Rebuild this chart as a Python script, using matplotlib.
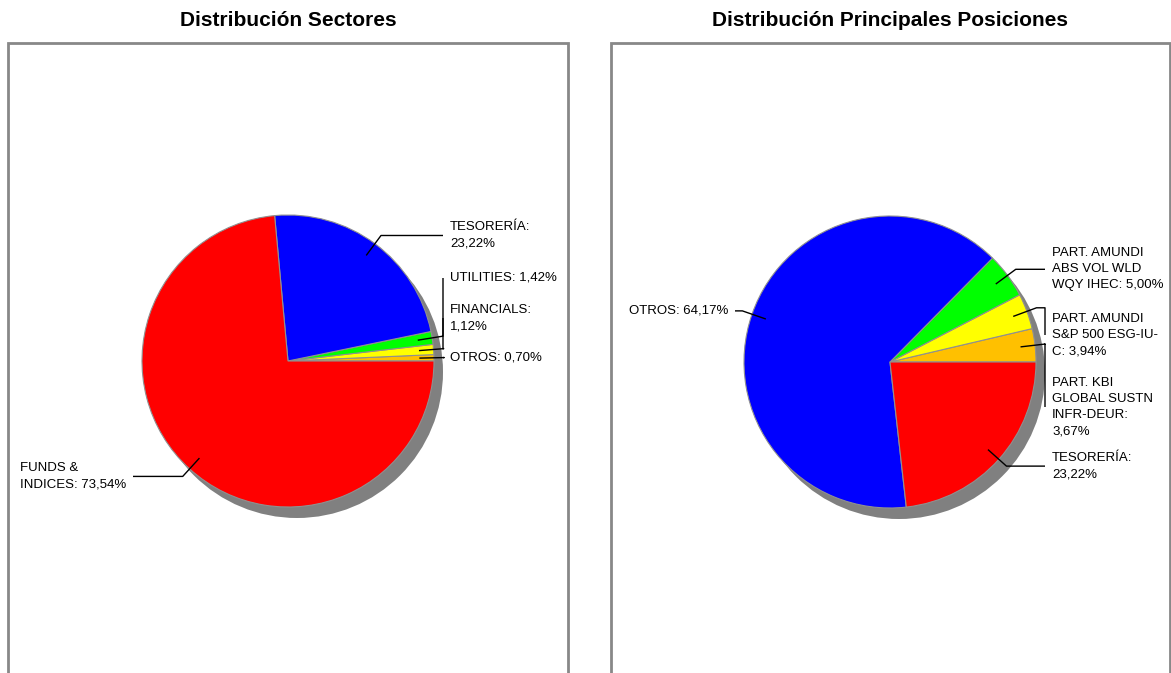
import numpy as np
import matplotlib
matplotlib.use("Agg")
import matplotlib.pyplot as plt
from matplotlib.patches import Rectangle, Circle

plt.rcParams['font.family'] = ['Liberation Sans', 'DejaVu Sans']

# --- data ---
sect_names = ["OTROS", "FINANCIALS", "UTILITIES", "TESORERÍA", "FUNDS &\nINDICES"]
sect_values = [0.70, 1.12, 1.42, 23.22, 73.54]
sect_seps = [": ", ":\n", ": ", ":\n", ": "]
sect_colors = ["#FFC000", "#FFFF00", "#00FF00", "#0000FF", "#FF0000"]

pos_names = ["PART. KBI\nGLOBAL SUSTN\nINFR-DEUR", "PART. AMUNDI\nS&P 500 ESG-IU-\nC",
             "PART. AMUNDI\nABS VOL WLD\nWQY IHEC", "OTROS", "TESORERÍA"]
pos_values = [3.67, 3.94, 5.00, 64.17, 23.22]
pos_seps = [":\n", ": ", ": ", ": ", ":\n"]
pos_colors = ["#FFC000", "#FFFF00", "#00FF00", "#0000FF", "#FF0000"]

# label y overrides for the thin slices (image pixels, None = at elbow)
sect_label_y = [None, 318, 278, None, None]
pos_label_y = [407, 335, None, None, None]

W, H = 1171, 673
R = 146
GRAY = "#888888"


def fmt(v):
    return ("%.2f" % v).replace(".", ",") + "%"


def draw_panel(ax, title, x0, x1, cx, cy, names, values, seps, colors, label_y):
    # box and title
    ax.add_patch(Rectangle((x0, -10), x1 - x0, H - 43 + 10, fill=False,
                           edgecolor=GRAY, lw=2, zorder=1))
    ax.text((x0 + x1) / 2, H - 20, title, ha="center", va="center",
            fontsize=15, fontweight="bold")
    y = H - cy
    # shadow
    ax.add_patch(Circle((cx + 9, y - 11), R, color="#808080", lw=0, zorder=2))
    wedges, _ = ax.pie(values, colors=colors, startangle=0, counterclock=True,
                       center=(cx, y), radius=R, frame=True,
                       wedgeprops=dict(edgecolor="#909090", linewidth=0.8))
    for w in wedges:
        w.set_zorder(3)
    for w, name, v, sep, ly in zip(wedges, names, values, seps, label_y):
        a = np.deg2rad((w.theta1 + w.theta2) / 2)
        px, py = cx + 0.9 * R * np.cos(a), y + 0.9 * R * np.sin(a)
        ex, ey = cx + 1.07 * R * np.cos(a), y + 1.07 * R * np.sin(a)
        side = 1 if np.cos(a) >= 0 else -1
        lx = cx + side * 155
        ty = ey if ly is None else H - ly
        ax.plot([px, ex, lx, lx], [py, ey, ey, ty], color="black", lw=1,
                zorder=4, solid_capstyle="butt")
        ax.text(lx + side * 7, ty, name + sep + fmt(v), ha="left" if side > 0 else "right",
                va="center", multialignment="left", fontsize=9.5, linespacing=1.45,
                zorder=5)


fig = plt.figure(figsize=(W / 100, H / 100), dpi=100)
ax = fig.add_axes([0, 0, 1, 1])

draw_panel(ax, "Distribución Sectores", 8, 568, 288, 361,
           sect_names, sect_values, sect_seps, sect_colors, sect_label_y)
draw_panel(ax, "Distribución Principales Posiciones", 611, 1170, 890, 362,
           pos_names, pos_values, pos_seps, pos_colors, pos_label_y)

ax.set_xlim(0, W)
ax.set_ylim(0, H)
ax.set_aspect("equal")
ax.axis("off")

fig.savefig("out.png", dpi=100)
